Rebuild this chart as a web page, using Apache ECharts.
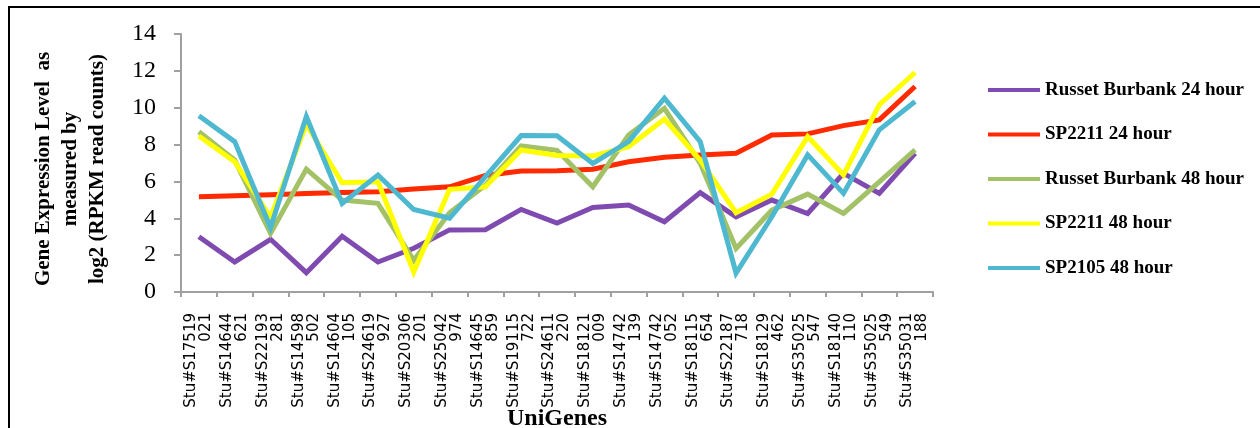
<!DOCTYPE html>
<html>
<head>
<meta charset="utf-8">
<script src="https://cdn.jsdelivr.net/npm/echarts@6/dist/echarts.min.js"></script>
<style>
html,body{margin:0;padding:0;background:#fff;}
#chart{width:1260px;height:428px;}
</style>
</head>
<body>
<div id="chart"></div>
<script>
const categories = ["Stu#S17519021","Stu#S14644621","Stu#S22193281","Stu#S14598502","Stu#S14604105","Stu#S24619927","Stu#S20306201","Stu#S25042974","Stu#S14645859","Stu#S19115722","Stu#S24611220","Stu#S18121009","Stu#S14742139","Stu#S14742052","Stu#S18115654","Stu#S22187718","Stu#S18129462","Stu#S35025547","Stu#S18140110","Stu#S35025549","Stu#S35031188"];
const seriesNames = ["Russet Burbank 24 hour","SP2211 24 hour","Russet Burbank 48 hour","SP2211 48 hour","SP2105 48 hour"];
const rb24 = [3.0,1.63,2.86,1.05,3.03,1.63,2.37,3.37,3.38,4.48,3.74,4.59,4.72,3.81,5.39,4.08,4.99,4.26,6.44,5.35,7.53];
const sp2211_24 = [5.17,5.22,5.28,5.35,5.4,5.44,5.59,5.71,6.32,6.56,6.58,6.66,7.07,7.31,7.44,7.53,8.52,8.58,9.03,9.34,11.15];
const rb48 = [8.7,7.16,3.18,6.67,4.99,4.81,1.72,4.3,5.8,7.93,7.69,5.71,8.52,9.97,6.98,2.36,4.44,5.31,4.26,5.98,7.71];
const sp2211_48 = [8.47,7.07,4.05,9.1,5.93,5.98,1.09,5.57,5.71,7.71,7.41,7.38,7.89,9.38,7.16,4.3,5.31,8.43,6.35,10.16,11.91];
const sp2105_48 = [9.56,8.16,3.5,9.52,4.81,6.35,4.48,4.0,6.26,8.49,8.48,6.98,8.16,10.52,8.16,1.03,4.08,7.44,5.35,8.8,10.34];
const yTicks = {min:0, max:14, interval:2};
const yTitle = "Gene Expression Level  as\nmeasured by\nlog2 (RPKM read counts)";
const xTitle = "UniGenes";

const colors = ["#7F4BB0","#FF2A00","#A3C167","#FFFF00","#4DB8D0"];
const datasets = [rb24, sp2211_24, rb48, sp2211_48, sp2105_48];

const chart = echarts.init(document.getElementById('chart'), null, {renderer:'canvas'});
const serif = "'Liberation Serif', 'DejaVu Serif', serif";
chart.setOption({
  animation:false,
  backgroundColor:'#fff',
  grid:{left:181, right:327, top:34, bottom:136, containLabel:false, outerBoundsMode:'none'},
  legend:{
    orient:'vertical', left:983, top:75, itemWidth:52, itemHeight:4, itemGap:24.5,
    icon:'rect',
    data:seriesNames,
    textStyle:{fontFamily:serif, fontWeight:'bold', fontSize:19, color:'#000', lineHeight:20}
  },
  xAxis:{
    type:'category', data:categories, boundaryGap:true,
    name:xTitle, nameLocation:'middle', nameGap:115, nameMoveOverlap:false,
    nameTextStyle:{fontFamily:serif, fontWeight:'bold', fontSize:24, color:'#000', verticalAlign:'top'},
    axisLine:{lineStyle:{color:'#A0A0A0', width:2}},
    axisTick:{show:true, length:5, interval:0, lineStyle:{color:'#A0A0A0', width:2}},
    axisLabel:{
      interval:0, rotate:90, margin:21,
      fontFamily:"'DejaVu Sans', sans-serif", fontSize:15, lineHeight:15, color:'#000',
      formatter:function(v){return v.slice(0,10)+'\n'+v.slice(10);}
    },
    splitLine:{show:false}
  },
  yAxis:{
    type:'value', min:yTicks.min, max:yTicks.max, interval:yTicks.interval,
    name:yTitle, nameLocation:'middle', nameRotate:90, nameGap:70,
    nameTextStyle:{fontFamily:serif, fontWeight:'bold', fontSize:21, color:'#000', lineHeight:27, align:'center', padding:[0,12,0,0]},
    axisLine:{show:true, lineStyle:{color:'#A0A0A0', width:2}},
    axisTick:{show:true, length:7, lineStyle:{color:'#A0A0A0', width:2}},
    axisLabel:{margin:25, fontFamily:serif, fontSize:24, color:'#000'},
    splitLine:{show:false}
  },
  series: seriesNames.map(function(n,i){
    return {
      name:n, type:'line', data:datasets[i], showSymbol:false, symbol:'none',
      lineStyle:{color:colors[i], width:5, join:'miter'},
      itemStyle:{color:colors[i]},
      z:2+i
    };
  }),
  graphic:[{
    type:'rect', shape:{x:9, y:7, width:1300, height:500},
    style:{fill:null, stroke:'#000', lineWidth:2}, silent:true, z:-1
  }]
});
</script>
</body>
</html>
